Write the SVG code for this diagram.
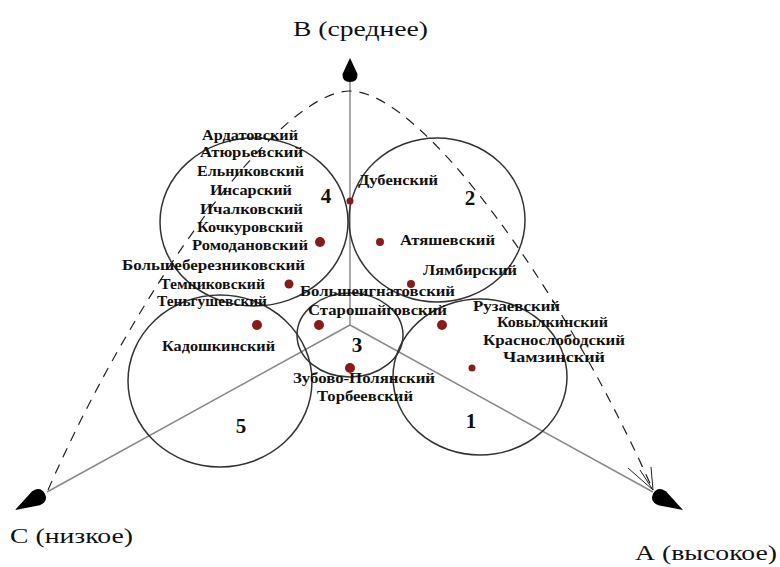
<svg xmlns="http://www.w3.org/2000/svg" width="780" height="567" viewBox="0 0 780 567">
<style>
.ax{stroke:#8a8a8a;stroke-width:1.5;fill:none}
.cl{stroke:#333;stroke-width:1.5;fill:none}
.dash{stroke:#222;stroke-width:1.2;fill:none;stroke-dasharray:10 8}
.oa{stroke:#222;stroke-width:1;fill:none}
.t{font-family:"Liberation Serif","Times New Roman",serif;font-weight:bold;font-size:14px;fill:#111}
.n{font-family:"Liberation Serif","Times New Roman",serif;font-weight:bold;font-size:21px;fill:#111;text-anchor:middle}
.lab{font-family:"Liberation Serif","Times New Roman",serif;font-size:21px;fill:#111}
.d{fill:#8b1a1a}
.ah{fill:#000}
</style>
<defs>
<path id="head" d="M0,0 L-16,-7.5 Q-24,-8 -24,0 Q-24,8 -16,7.5 Z"/>
<path id="headL" d="M0,0 L-24,-8 Q-34,-9 -34,0 Q-34,9 -24,8 Z"/>
</defs>
<rect width="780" height="567" fill="#fff"/>
<g id="connectors">
<line class="ax" x1="350" y1="80" x2="350" y2="325"/>
<line class="ax" x1="350" y1="325" x2="47" y2="492"/>
<line class="ax" x1="350" y1="325" x2="653" y2="492"/>
<path class="dash" d="M48,490 C138,285 280,91 350,91 C420,91 562,285 653,490"/>
<path class="oa" d="M628,468 L653,490 M640,470 L653,490 M651,467 L653,490"/>
<use href="#head" class="ah" transform="translate(350,58) rotate(-90)"/>
<use href="#headL" class="ah" transform="translate(15,510) rotate(151)"/>
<use href="#headL" class="ah" transform="translate(683,510) rotate(29)"/>
</g>
<g id="axis-B"><text class="lab" x="293" y="36" textLength="135" lengthAdjust="spacingAndGlyphs">В (среднее)</text></g>
<g id="axis-C"><text class="lab" x="10" y="543" textLength="123" lengthAdjust="spacingAndGlyphs">С (низкое)</text></g>
<g id="axis-A"><text class="lab" x="635" y="560" textLength="142" lengthAdjust="spacingAndGlyphs">А (высокое)</text></g>
<g id="cluster-4"><ellipse class="cl" cx="254" cy="222" rx="94" ry="84"/><text class="n" x="326" y="203">4</text></g>
<g id="cluster-2"><ellipse class="cl" cx="437" cy="220" rx="88" ry="82"/><text class="n" x="470" y="205">2</text></g>
<g id="cluster-3"><ellipse class="cl" cx="350" cy="335" rx="53" ry="42"/><text class="n" x="357" y="352">3</text></g>
<g id="cluster-5"><ellipse class="cl" cx="220" cy="381" rx="92" ry="86"/><text class="n" x="241" y="433">5</text></g>
<g id="cluster-1"><ellipse class="cl" cx="480" cy="377" rx="87" ry="78"/><text class="n" x="471" y="428">1</text></g>
<g id="ardatovsky"><text class="t" x="202" y="140" textLength="96" lengthAdjust="spacingAndGlyphs">Ардатовский</text></g>
<g id="atyurevsky"><text class="t" x="200" y="157" textLength="103" lengthAdjust="spacingAndGlyphs">Атюрьевский</text></g>
<g id="elnikovsky"><text class="t" x="197" y="176" textLength="107" lengthAdjust="spacingAndGlyphs">Ельниковский</text></g>
<g id="insarsky"><text class="t" x="210" y="195" textLength="82" lengthAdjust="spacingAndGlyphs">Инсарский</text></g>
<g id="ichalkovsky"><text class="t" x="200" y="214" textLength="103" lengthAdjust="spacingAndGlyphs">Ичалковский</text></g>
<g id="kochkurovsky"><text class="t" x="197" y="232" textLength="106" lengthAdjust="spacingAndGlyphs">Кочкуровский</text></g>
<g id="romodanovsky"><text class="t" x="192" y="250" textLength="116" lengthAdjust="spacingAndGlyphs">Ромодановский</text><circle class="d" cx="320" cy="242" r="5"/></g>
<g id="bolsheberezn"><text class="t" x="122" y="270" textLength="183" lengthAdjust="spacingAndGlyphs">Большеберезниковский</text></g>
<g id="temnikovsky"><text class="t" x="160" y="289" textLength="105" lengthAdjust="spacingAndGlyphs">Темниковский</text><circle class="d" cx="289" cy="284" r="4.5"/></g>
<g id="tengushevsky"><text class="t" x="157" y="306" textLength="110" lengthAdjust="spacingAndGlyphs">Теньгушевский</text></g>
<g id="kadoshkinsky"><text class="t" x="162" y="351" textLength="113" lengthAdjust="spacingAndGlyphs">Кадошкинский</text><circle class="d" cx="257" cy="325" r="5"/></g>
<g id="dubensky"><text class="t" x="358" y="185" textLength="80" lengthAdjust="spacingAndGlyphs">Дубенский</text><circle class="d" cx="350" cy="201" r="3.5"/></g>
<g id="atyashevsky"><text class="t" x="400" y="245" textLength="95" lengthAdjust="spacingAndGlyphs">Атяшевский</text><circle class="d" cx="380" cy="242" r="4"/></g>
<g id="lyambirsky"><text class="t" x="423" y="275" textLength="94" lengthAdjust="spacingAndGlyphs">Лямбирский</text><circle class="d" cx="411" cy="284" r="4"/></g>
<g id="bolsheignatovsky"><text class="t" x="300" y="296" textLength="155" lengthAdjust="spacingAndGlyphs">Большеигнатовский</text></g>
<g id="staroshaygovsky"><text class="t" x="308" y="315" textLength="139" lengthAdjust="spacingAndGlyphs">Старошайговский</text><circle class="d" cx="319" cy="325" r="5"/></g>
<g id="ruzaevsky"><text class="t" x="473" y="311" textLength="87" lengthAdjust="spacingAndGlyphs">Рузаевский</text><circle class="d" cx="442" cy="325" r="5"/></g>
<g id="kovylkinsky"><text class="t" x="497" y="327" textLength="111" lengthAdjust="spacingAndGlyphs">Ковылкинский</text></g>
<g id="krasnoslobodsky"><text class="t" x="483" y="345" textLength="142" lengthAdjust="spacingAndGlyphs">Краснослободский</text></g>
<g id="chamzinsky"><text class="t" x="503" y="362" textLength="102" lengthAdjust="spacingAndGlyphs">Чамзинский</text><circle class="d" cx="472" cy="368" r="3.5"/></g>
<g id="zubovo-polyansky"><text class="t" x="293" y="383" textLength="142" lengthAdjust="spacingAndGlyphs">Зубово-Полянский</text><circle class="d" cx="350" cy="368" r="5"/></g>
<g id="torbeevsky"><text class="t" x="317" y="401" textLength="96" lengthAdjust="spacingAndGlyphs">Торбеевский</text></g>
</svg>
